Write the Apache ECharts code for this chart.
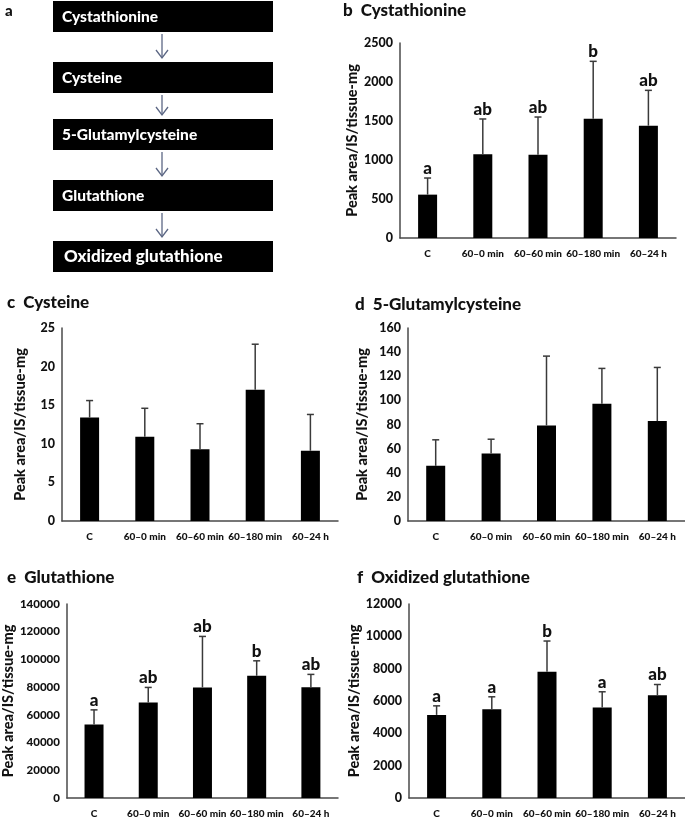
<!DOCTYPE html>
<html>
<head>
<meta charset="utf-8">
<script src="https://cdn.jsdelivr.net/npm/echarts@6/dist/echarts.min.js"></script>
<style>
html,body{margin:0;padding:0;background:#fff;}
#chart{width:685px;height:820px;}
</style>
</head>
<body>
<div id="chart"></div>
<script>
// ---------------- DATA ----------------
const categories = ['C', '60–0 min', '60–60 min', '60–180 min', '60–24 h'];
const pathwaySteps = ['Cystathionine', 'Cysteine', '5-Glutamylcysteine', 'Glutathione', 'Oxidized glutathione'];

const cystathionineMean = [556, 1073, 1068, 1530, 1440];
const cystathionineSD   = [213, 453, 483, 735, 453];
const cystathionineSig  = ['a', 'ab', 'ab', 'b', 'ab'];

const cysteineMean = [13.4, 10.9, 9.3, 17.0, 9.1];
const cysteineSD   = [2.2, 3.7, 3.3, 5.9, 4.7];
const cysteineSig  = ['', '', '', '', ''];

const glutamylcysteineMean = [45.7, 55.9, 79.2, 97.2, 82.8];
const glutamylcysteineSD   = [21.6, 11.9, 57.5, 29.3, 44.5];
const glutamylcysteineSig  = ['', '', '', '', ''];

const glutathioneMean = [53000, 68900, 79800, 88200, 80000];
const glutathioneSD   = [10600, 10900, 36800, 10800, 9200];
const glutathioneSig  = ['a', 'ab', 'ab', 'b', 'ab'];

const oxidizedMean = [5140, 5490, 7810, 5600, 6360];
const oxidizedSD   = [560, 770, 1900, 970, 660];
const oxidizedSig  = ['a', 'a', 'b', 'a', 'ab'];

const yAxisName = 'Peak area/IS/tissue-mg';

// ---------------- LAYOUT ----------------
const FONT = 'Lato';
const W = 900;
const panels = [
  {title: 'b  Cystathionine', tx: 343, ty: 2, mean: cystathionineMean, sd: cystathionineSD, sig: cystathionineSig,
   max: 2500, interval: 500, grid: {left: 400, top: 43, width: 276, height: 195}, nameGap: 40, tickFont: 12.5},
  {title: 'c  Cysteine', tx: 7, ty: 294, mean: cysteineMean, sd: cysteineSD, sig: cysteineSig,
   max: 25, interval: 5, grid: {left: 62, top: 328, width: 276, height: 193}, nameGap: 34, tickFont: 12.5},
  {title: 'd  5-Glutamylcysteine', tx: 355, ty: 296, mean: glutamylcysteineMean, sd: glutamylcysteineSD, sig: glutamylcysteineSig,
   max: 160, interval: 20, grid: {left: 408, top: 328, width: 277, height: 193}, nameGap: 38, tickFont: 12.5},
  {title: 'e  Glutathione', tx: 7, ty: 569, mean: glutathioneMean, sd: glutathioneSD, sig: glutathioneSig,
   max: 140000, interval: 20000, grid: {left: 63, top: 604, width: 275, height: 194}, nameGap: 45, tickFont: 11.5},
  {title: 'f  Oxidized glutathione', tx: 357, ty: 569, mean: oxidizedMean, sd: oxidizedSD, sig: oxidizedSig,
   max: 12000, interval: 2000, grid: {left: 409, top: 604, width: 276, height: 194}, nameGap: 40, tickFont: 12.5}
];

const axisColor = '#4a4a4a';
const errColor = '#3a3a3a';

const option = {
  animation: false,
  backgroundColor: '#fff',
  textStyle: {fontFamily: FONT},
  title: panels.map(p => ({
    text: p.title, left: p.tx, top: p.ty, padding: 0,
    textStyle: {fontFamily: FONT, fontSize: 17, fontWeight: W, color: '#111'}
  })),
  grid: panels.map(p => Object.assign({containLabel: false}, p.grid)),
  xAxis: panels.map((p, i) => ({
    type: 'category', gridIndex: i, data: categories,
    axisLine: {lineStyle: {color: axisColor, width: 1.5}},
    axisTick: {show: false},
    axisLabel: {interval: 0, margin: 11, fontFamily: FONT, fontSize: 10, fontWeight: W, color: '#111'}
  })),
  yAxis: panels.map((p, i) => ({
    type: 'value', gridIndex: i, min: 0, max: p.max, interval: p.interval,
    name: yAxisName, nameLocation: 'middle', nameGap: p.nameGap, nameRotate: 90,
    nameTextStyle: {fontFamily: FONT, fontSize: 14.5, fontWeight: W, color: '#111'},
    axisLine: {show: true, lineStyle: {color: axisColor, width: 1.5}},
    axisTick: {show: false},
    splitLine: {show: false},
    axisLabel: {margin: 7, fontFamily: FONT, fontSize: p.tickFont, fontWeight: W, color: '#111',
      formatter: v => String(v)}
  })),
  series: [],
  graphic: []
};

panels.forEach((p, i) => {
  option.series.push({
    type: 'bar', xAxisIndex: i, yAxisIndex: i,
    data: p.mean, barWidth: 19,
    itemStyle: {color: '#000'}
  });
  option.series.push({
    type: 'custom', xAxisIndex: i, yAxisIndex: i,
    data: p.mean.map((m, k) => [k, m, p.sd[k]]),
    z: 5,
    renderItem: function (params, api) {
      const k = api.value(0), m = api.value(1), s = api.value(2);
      const p0 = api.coord([k, m]);
      const p1 = api.coord([k, m + s]);
      const letter = p.sig[params.dataIndex];
      const children = [
        {type: 'line', shape: {x1: p0[0], y1: p0[1], x2: p1[0], y2: p1[1]},
         style: {stroke: errColor, lineWidth: 1.5}},
        {type: 'line', shape: {x1: p1[0] - 3.5, y1: p1[1], x2: p1[0] + 3.5, y2: p1[1]},
         style: {stroke: errColor, lineWidth: 1.5}}
      ];
      if (letter) {
        children.push({type: 'text', x: p1[0], y: p1[1] - 1,
          style: {text: letter, textAlign: 'center', textVerticalAlign: 'bottom',
            font: W + ' 17px ' + FONT, fill: '#111'}});
      }
      return {type: 'group', children: children};
    }
  });
});

// ---------------- PANEL a (pathway diagram) ----------------
option.graphic.push({type: 'text', left: 5, top: 4,
  style: {text: 'a', font: W + ' 15px ' + FONT, fill: '#111'}});
const boxTops = [1, 62, 119, 180, 241];
pathwaySteps.forEach((name, i) => {
  const top = boxTops[i];
  option.graphic.push({type: 'rect', shape: {x: 53, y: top, width: 220, height: 31},
    style: {fill: '#000'}});
  const last = i === pathwaySteps.length - 1;
  option.graphic.push({type: 'text', x: last ? 64 : 62, y: top + 15.5,
    style: {text: name, font: W + ' ' + (last ? 17 : 15.5) + 'px ' + FONT, fill: '#fff',
      textVerticalAlign: 'middle'}});
  if (!last) {
    const y1 = top + 33, y2 = boxTops[i + 1] - 4;
    option.graphic.push({type: 'line', shape: {x1: 162, y1: y1, x2: 162, y2: y2},
      style: {stroke: '#5c6784', lineWidth: 1.3}});
    option.graphic.push({type: 'polyline', shape: {points: [[156, y2 - 8], [162, y2], [168, y2 - 8]]},
      style: {stroke: '#5c6784', lineWidth: 1.3, fill: null}});
  }
});

const chart = echarts.init(document.getElementById('chart'), null, {renderer: 'canvas'});
chart.setOption(option);
</script>
</body>
</html>
